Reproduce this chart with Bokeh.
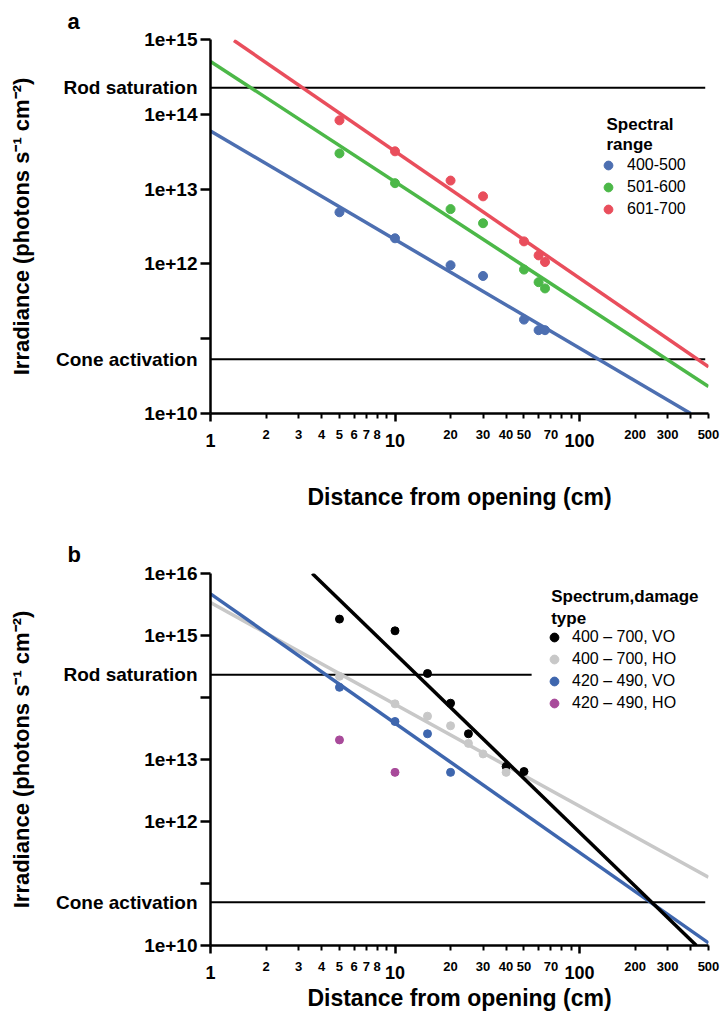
from bokeh.plotting import figure
from bokeh.models import (Range1d, FixedTicker, CustomJSTickFormatter, Label, LogAxis,
                          Legend, LegendItem, Title)
from bokeh.layouts import column
from bokeh.embed import file_html
from bokeh.resources import INLINE

FONT = "Liberation Sans"

# ---------------- data: panel a ----------------
a_x = [5, 10, 20, 30, 50, 60, 65]
a_400_500 = [4.9e12, 2.2e12, 9.6e11, 6.9e11, 1.8e11, 1.3e11, 1.3e11]
a_501_600 = [3.0e13, 1.2e13, 5.4e12, 3.5e12, 8.4e11, 5.7e11, 4.7e11]
a_601_700 = [8.3e13, 3.2e13, 1.3e13, 8.0e12, 2.0e12, 1.3e12, 1.06e12]
a_series = ["400-500", "501-600", "601-700"]

a_fit_400_500_x = [1, 400]
a_fit_400_500_y = [6.0e13, 1.0e10]
a_fit_501_600_x = [1, 500]
a_fit_501_600_y = [5.1e14, 2.3e10]
a_fit_601_700_x = [1.34, 500]
a_fit_601_700_y = [9.7e14, 4.2e10]

a_rod_level = 2.27e14
a_rod_x = [1, 480]
a_cone_level = 5.3e10
a_cone_x = [1, 480]

a_ytick_marks = [1e10, 1e11, 1e12, 1e13, 1e14, 1e15]
a_ytick_values = [1e10, 1e12, 1e13, 1e14, 1e15, a_rod_level, a_cone_level]
a_ytick_labels = ["1e+10", "1e+12", "1e+13", "1e+14", "1e+15", "Rod saturation", "Cone activation"]

# ---------------- data: panel b ----------------
b_vo_400_700_x = [5, 10, 15, 20, 25, 40, 50]
b_vo_400_700_y = [1.84e15, 1.19e15, 2.44e14, 8.1e13, 2.6e13, 7.7e12, 6.4e12]
b_ho_400_700_x = [5, 10, 15, 20, 25, 30, 40]
b_ho_400_700_y = [2.2e14, 7.9e13, 5.0e13, 3.5e13, 1.82e13, 1.23e13, 6.2e12]
b_vo_420_490_x = [5, 10, 15, 20]
b_vo_420_490_y = [1.46e14, 4.1e13, 2.6e13, 6.2e12]
b_ho_420_490_x = [5, 10]
b_ho_420_490_y = [2.07e13, 6.2e12]
b_series = ["400 \u2013 700, VO", "400 \u2013 700, HO", "420 \u2013 490, VO", "420 \u2013 490, HO"]

b_fit_vo_400_700_x = [3.56, 430]
b_fit_vo_400_700_y = [1.0e16, 1.0e10]
b_fit_ho_400_700_x = [1, 500]
b_fit_ho_400_700_y = [3.4e15, 1.26e11]
b_fit_vo_420_490_x = [1, 500]
b_fit_vo_420_490_y = [4.7e15, 1.1e10]

b_rod_level = 2.33e14
b_rod_x = [1, 55]
b_cone_level = 5.0e10
b_cone_x = [1, 480]

b_ytick_marks = [1e10, 1e11, 1e12, 1e13, 1e14, 1e15, 1e16]
b_ytick_values = [1e10, 1e12, 1e13, 1e15, 1e16, b_rod_level, b_cone_level]
b_ytick_labels = ["1e+10", "1e+12", "1e+13", "1e+15", "1e+16", "Rod saturation", "Cone activation"]

# ---------------- shared x axis ----------------
x_major_ticks = [1, 10, 100]
x_major_labels = ["1", "10", "100"]
x_minor_ticks = [2, 3, 4, 5, 6, 7, 8, 9, 20, 30, 40, 50, 60, 70, 80, 90, 200, 300, 400, 500]
x_small_label_ticks = [2, 3, 4, 5, 6, 7, 8, 20, 30, 40, 50, 70, 200, 300, 500]
x_small_labels = ["2", "3", "4", "5", "6", "7", "8", "20", "30", "40", "50", "70", "200", "300", "500"]

y_title = "Irradiance (photons s\u207b\u00b9 cm\u207b\u00b2)"
x_title = "Distance from opening (cm)"

FMT_CODE = """
const i = tv.findIndex(t => Math.abs(Math.log10(t) - Math.log10(tick)) < 1e-6);
return i >= 0 ? tl[i] : "";
"""


def fmt(vals, labels):
    return CustomJSTickFormatter(args=dict(tv=vals, tl=labels), code=FMT_CODE)


def make_fig(height, b_top, b_bottom, y_lo, y_hi, ymarks, yvals, ylabels, xlab_standoff,
             letter, letter_standoff):
    p = figure(width=720, height=height, x_axis_type="log", y_axis_type="log",
               x_range=Range1d(1, 500), y_range=Range1d(y_lo, y_hi),
               output_backend="svg", toolbar_location=None,
               min_border_left=210, min_border_right=12,
               min_border_top=b_top, min_border_bottom=b_bottom)
    p.xgrid.visible = False
    p.ygrid.visible = False
    p.outline_line_color = None

    # axis nearest the frame: ticks and the large labels 1, 10, 100
    xa = p.xaxis[0]
    xa.ticker = FixedTicker(ticks=x_major_ticks, minor_ticks=x_minor_ticks)
    xa.formatter = fmt(x_major_ticks, x_major_labels)
    xa.major_label_text_font = FONT
    xa.major_label_text_font_style = "bold"
    xa.major_label_text_font_size = "18px"
    xa.major_label_text_color = "black"
    xa.major_label_standoff = 12
    xa.major_tick_out = 8
    xa.major_tick_in = 0
    xa.minor_tick_out = 5
    xa.minor_tick_in = 0
    xa.axis_line_width = 2.5
    xa.major_tick_line_width = 2.5
    xa.minor_tick_line_width = 2

    # second axis carrying the small labels (pulled up beside the large ones) and the title
    xb = LogAxis(ticker=FixedTicker(ticks=x_small_label_ticks, minor_ticks=[]),
                 formatter=fmt(x_small_label_ticks, x_small_labels))
    xb.axis_line_color = None
    xb.major_tick_line_color = None
    xb.minor_tick_line_color = None
    xb.major_tick_out = 0
    xb.major_tick_in = 0
    xb.minor_tick_out = 0
    xb.minor_tick_in = 0
    xb.major_label_standoff = -20
    xb.major_label_text_font = FONT
    xb.major_label_text_font_style = "bold"
    xb.major_label_text_font_size = "13px"
    xb.major_label_text_color = "black"
    xb.axis_label = x_title
    xb.axis_label_text_font = FONT
    xb.axis_label_text_font_style = "bold"
    xb.axis_label_text_font_size = "23px"
    xb.axis_label_text_color = "black"
    xb.axis_label_standoff = xlab_standoff
    p.add_layout(xb, "below")

    ya = p.yaxis[0]
    ya.ticker = FixedTicker(ticks=yvals, minor_ticks=ymarks)
    ya.formatter = fmt(yvals, ylabels)
    ya.major_label_text_font = FONT
    ya.major_label_text_font_style = "bold"
    ya.major_label_text_font_size = "19px"
    ya.major_label_text_color = "black"
    ya.major_label_standoff = 3
    ya.major_tick_out = 10
    ya.major_tick_in = 0
    ya.major_tick_line_color = None
    ya.minor_tick_out = 10
    ya.minor_tick_in = 0
    ya.minor_tick_line_width = 2.5
    ya.minor_tick_line_color = "black"
    ya.axis_line_width = 2.5
    ya.axis_label = y_title
    ya.axis_label_text_font = FONT
    ya.axis_label_text_font_style = "bold"
    ya.axis_label_text_font_size = "22px"
    ya.axis_label_text_color = "black"
    ya.axis_label_standoff = 19

    p.add_layout(Title(text=letter, align="left", offset=-143, standoff=letter_standoff,
                       text_font=FONT, text_font_style="bold", text_font_size="22px",
                       text_color="black"), "above")
    return p


def styled_legend(p, items, loc, standoff):
    lg = Legend(items=items, location=loc, glyph_width=30, glyph_height=22,
                label_standoff=standoff, spacing=0, padding=0, margin=0,
                border_line_color=None, background_fill_alpha=0,
                label_text_font=FONT, label_text_font_size="16px", label_text_color="black")
    p.add_layout(lg)


# ---------------- panel a ----------------
pa = make_fig(530, 39, 117, 1e10, 1e15, a_ytick_marks, a_ytick_values, a_ytick_labels, 42,
              "a", 11)

pa.line(a_rod_x, [a_rod_level] * 2, line_width=2, color="black")
pa.line(a_cone_x, [a_cone_level] * 2, line_width=2, color="black")

a_cols = ["#4d6fb1", "#4cb848", "#e94e5c"]
pa.line(a_fit_400_500_x, a_fit_400_500_y, line_width=3.5, color=a_cols[0])
pa.line(a_fit_501_600_x, a_fit_501_600_y, line_width=3.5, color=a_cols[1])
pa.line(a_fit_601_700_x, a_fit_601_700_y, line_width=3.5, color=a_cols[2])

ra1 = pa.scatter(a_x, a_400_500, size=9, color=a_cols[0])
ra2 = pa.scatter(a_x, a_501_600, size=9, color=a_cols[1])
ra3 = pa.scatter(a_x, a_601_700, size=9, color=a_cols[2])

styled_legend(pa, [LegendItem(label=a_series[0], renderers=[ra1]),
                   LegendItem(label=a_series[1], renderers=[ra2]),
                   LegendItem(label=a_series[2], renderers=[ra3])], (383, 193), 4)
for txt, yy in [("Spectral", 7.2e13), ("range", 4.0e13)]:
    pa.add_layout(Label(x=140, y=yy, text=txt, text_baseline="alphabetic",
                        text_font=FONT, text_font_style="bold", text_font_size="17px",
                        text_color="black"))

# ---------------- panel b ----------------
pb = make_fig(489, 43, 74, 1e10, 1e16, b_ytick_marks, b_ytick_values, b_ytick_labels, 11,
              "b", 14)

pb.line(b_rod_x, [b_rod_level] * 2, line_width=2, color="black")
pb.line(b_cone_x, [b_cone_level] * 2, line_width=2, color="black")

b_cols = ["#000000", "#c8c8c8", "#3e66ae", "#a84a9a"]
pb.line(b_fit_ho_400_700_x, b_fit_ho_400_700_y, line_width=3.5, color=b_cols[1])
pb.line(b_fit_vo_420_490_x, b_fit_vo_420_490_y, line_width=3.5, color=b_cols[2])
pb.line(b_fit_vo_400_700_x, b_fit_vo_400_700_y, line_width=3.5, color=b_cols[0])

rb1 = pb.scatter(b_vo_400_700_x, b_vo_400_700_y, size=8, color=b_cols[0])
rb2 = pb.scatter(b_ho_400_700_x, b_ho_400_700_y, size=8, color=b_cols[1])
rb3 = pb.scatter(b_vo_420_490_x, b_vo_420_490_y, size=8, color=b_cols[2])
rb4 = pb.scatter(b_ho_420_490_x, b_ho_420_490_y, size=8, color=b_cols[3])

styled_legend(pb, [LegendItem(label=b_series[0], renderers=[rb1]),
                   LegendItem(label=b_series[1], renderers=[rb2]),
                   LegendItem(label=b_series[2], renderers=[rb3]),
                   LegendItem(label=b_series[3], renderers=[rb4])], (329, 231), 3)
for txt, yy in [("Spectrum,damage", 4.25e15), ("type", 1.9e15)]:
    pb.add_layout(Label(x=70.2, y=yy, text=txt, text_baseline="alphabetic",
                        text_font=FONT, text_font_style="bold", text_font_size="17px",
                        text_color="black"))

layout = column(pa, pb)
open("out.html", "w").write(file_html(layout, INLINE))
